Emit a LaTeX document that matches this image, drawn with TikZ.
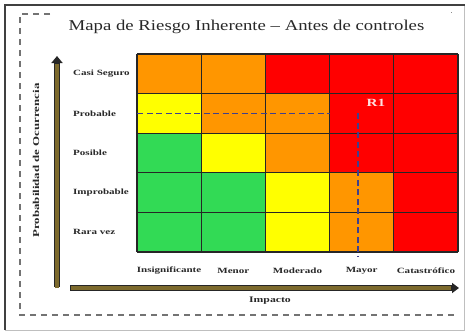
\documentclass[tikz,border=0pt]{standalone}
\usepackage{fontspec}
\setmainfont{Liberation Serif}
\usetikzlibrary{arrows.meta}
\definecolor{cOr}{RGB}{255,150,0}
\definecolor{cRe}{RGB}{255,0,0}
\definecolor{cYe}{RGB}{255,255,0}
\definecolor{cGr}{RGB}{50,218,85}
\definecolor{olivebar}{RGB}{125,106,45}
\definecolor{txt}{RGB}{40,40,40}
\newcommand{\hsc}[1]{\scalebox{1.38}[1]{#1}}
\begin{document}
\begin{tikzpicture}[x=1pt,y=-1pt,
  rowlab/.style={anchor=west, inner sep=0pt, text=txt, font=\fontsize{8}{8}\selectfont\bfseries},
  collab/.style={anchor=center, inner sep=0pt, text=txt, font=\fontsize{8}{8}\selectfont\bfseries},
  gridline/.style={draw=black!85, line width=1.2pt},
  riskdash/.style={draw=black!60!blue!75, line width=1.4pt, dash pattern=on 6pt off 3.5pt},
  framedash/.style={draw=black!55, line width=1.3pt, dash pattern=on 6pt off 5pt},
  barout/.style={line width=6pt, draw=black!85},
  barin/.style={line width=3.4pt, draw=olivebar},
]
\useasboundingbox (0,0) rectangle (467,332);
\fill[white] (0,0) rectangle (467,332);
% outer frame
\draw[black!25, line width=1pt] (5,5) rectangle (464,330);
\draw[black!75, line width=1.6pt] (5,330) -- (5,5) -- (465,5);
% dashed frame
\draw[framedash] (50,14) -- (20,14) -- (20,315) -- (457,315);
\draw[black!45, line width=1pt] (451,12.5) -- (452,12.5);
% title
\node[inner sep=0pt, text=txt] (title) at (246.5,27)
  {\scalebox{1.25}[1]{\fontsize{15}{15}\selectfont Mapa de Riesgo Inherente -- Antes de controles}};
% cells
\foreach \cl [count=\i from 0] in {cOr,cOr,cRe,cRe,cRe, cYe,cOr,cOr,cRe,cRe, cGr,cYe,cOr,cRe,cRe, cGr,cGr,cYe,cOr,cRe, cGr,cGr,cYe,cOr,cRe}{
  \pgfmathtruncatemacro{\rr}{floor(\i/5)}
  \pgfmathtruncatemacro{\cc}{mod(\i,5)}
  \fill[\cl] (137+\cc*64.2, 54+\rr*39.6) rectangle ++(64.2,39.6);
}
\foreach \k in {0,...,5}{
  \draw[gridline] (137+\k*64.2,54) -- (137+\k*64.2,252);
  \draw[gridline] (137,54+\k*39.6) -- (458,54+\k*39.6);
}
% risk dashed lines
\coordinate (hA) at (137,113.4);
\coordinate (hB) at (330,113.4);
\coordinate (vA) at (358,113.4);
\coordinate (vB) at (358,256);
\draw[riskdash] (hA) -- (hB);
\draw[riskdash] (vA) -- (vB);
\node[inner sep=0pt, text=white!88!red, font=\fontsize{11}{11}\selectfont\bfseries] (r1) at (376,103) {\hsc{R1}};
% row labels
\node[rowlab] (l1) at (73,73.8) {\hsc{Casi Seguro}};
\node[rowlab] (l2) at (73,113.4) {\hsc{Probable}};
\node[rowlab] (l3) at (73,153) {\hsc{Posible}};
\node[rowlab] (l4) at (73,192.6) {\hsc{Improbable}};
\node[rowlab] (l5) at (73,232.2) {\hsc{Rara vez}};
% column labels
\node[collab] (c1) at (169.1,271) {\hsc{Insignificante}};
\node[collab] (c2) at (233.3,271) {\hsc{Menor}};
\node[collab] (c3) at (297.5,271) {\hsc{Moderado}};
\node[collab] (c4) at (361.7,271) {\hsc{Mayor}};
\node[collab] (c5) at (425.9,271) {\hsc{Catastrófico}};
% axis arrows
\coordinate (ya) at (57,287);
\coordinate (yb) at (57,56);
\coordinate (yc) at (57,64);
\coordinate (xa) at (70,288);
\coordinate (xb) at (459,288);
\coordinate (xc) at (451,288);
\draw[barout, -{Triangle[length=7pt,width=11pt]}] (ya) -- (yb);
\draw[barin] ([yshift=-1.3pt]ya) -- (yc);
\draw[barout, -{Triangle[length=7pt,width=10pt]}] (xa) -- (xb);
\draw[barin] ([xshift=1.3pt]xa) -- (xc);
% axis titles
\node[inner sep=0pt, text=txt, rotate=90] (ylab) at (36,160.5)
  {\scalebox{1.43}[1]{\fontsize{9}{9}\selectfont\bfseries Probabilidad de Ocurrencia}};
\node[inner sep=0pt, text=txt] (xlab) at (270,301)
  {\scalebox{1.38}[1]{\fontsize{8.5}{8.5}\selectfont\bfseries Impacto}};
\end{tikzpicture}
\end{document}
